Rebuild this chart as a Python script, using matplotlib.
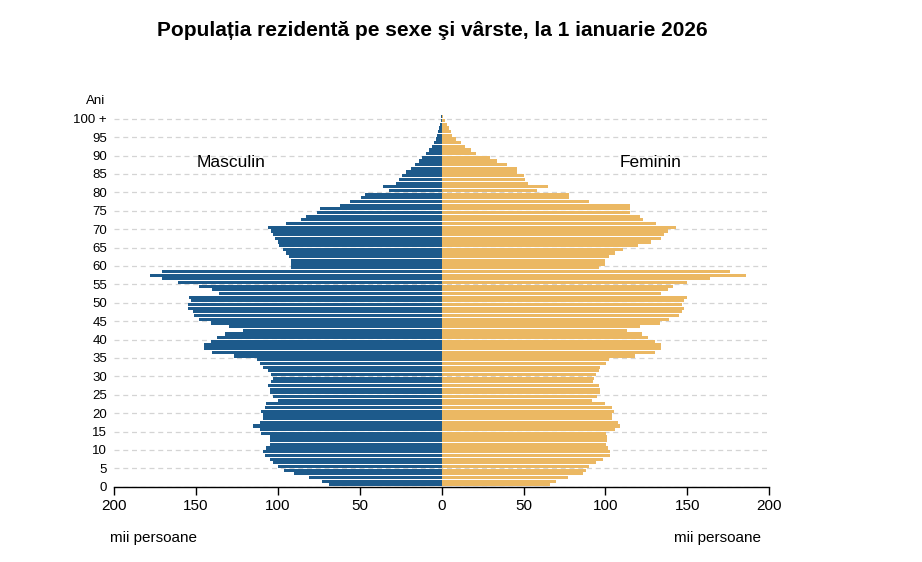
import matplotlib

matplotlib.use("Agg")
import matplotlib.pyplot as plt
import numpy as np

plt.rcParams["font.family"] = ["Liberation Sans", "DejaVu Sans"]

AGES = list(range(0, 101))

# mii persoane (0 ... 100+)
MASCULIN = [
    69, 73, 81, 90, 96, 100, 103, 105, 108, 109,
    107, 105, 105, 105, 110, 111, 115, 111, 109, 109,
    110, 108, 107, 100, 103, 105, 105, 106, 104, 103,
    104, 106, 109, 111, 113, 127, 140, 145, 145, 141,
    137, 132, 121, 130, 141, 148, 151, 152, 155, 155,
    153, 154, 136, 140, 148, 161, 171, 178, 171, 92,
    92, 92, 93, 95, 97, 99, 100, 102, 103, 104,
    106, 95, 86, 83, 76, 74, 62, 56, 49, 47,
    32, 36, 28, 26, 24, 22, 19, 16, 14, 12,
    9.5, 7.5, 6, 4.5, 3.5, 2.6, 2, 1.4, 1.0, 0.6,
    0.5,
]
FEMININ = [
    66, 70, 77, 86, 88, 90, 94.5, 98.6, 103, 102.6,
    101.6, 100.6, 101, 101, 100.6, 105.7, 108.7, 107.7, 104, 104,
    105, 103.7, 100, 92, 95, 96.5, 96.5, 96, 92.5, 93,
    94.5, 96, 96.5, 100.6, 102, 118, 130, 134, 134, 130,
    126, 122, 113, 121, 133, 139, 145, 147, 148, 147,
    148, 150, 134, 138, 141, 150, 164, 186, 176, 96,
    100, 100, 102, 106, 111, 120, 128, 134, 136, 138,
    143, 131, 123, 121, 115, 115, 115, 90, 78, 78,
    58, 65, 53, 51, 50, 46, 46, 40, 33.5, 29.5,
    21, 18, 14, 12, 8.5, 6.5, 5.7, 4.5, 3, 2,
    1,
]

X_TICKS = [-200, -150, -100, -50, 0, 50, 100, 150, 200]
Y_TICKS = list(range(0, 101, 5))
Y_LABELS = [str(v) for v in Y_TICKS[:-1]] + ["100 +"]

COL_M = "#1d5a8b"
COL_F = "#ebb863"

W, H = 922, 562
fig = plt.figure(figsize=(W / 100, H / 100), dpi=100)
ax = fig.add_axes([114 / W, (H - 486.7) / H, 655.3 / W, 373.5 / H])

ages = np.array(AGES) + 0.5
ax.barh(ages, -np.array(MASCULIN), height=0.86, color=COL_M, zorder=2)
ax.barh(ages, np.array(FEMININ), height=0.86, color=COL_F, zorder=2)

ax.set_xlim(-200, 200)
ax.set_ylim(0, 101.5)
ax.set_xticks(X_TICKS)
ax.set_xticklabels([str(abs(v)) for v in X_TICKS], fontsize=11)
ax.set_yticks(Y_TICKS)
ax.set_yticklabels(Y_LABELS, fontsize=9.5)
ax.tick_params(axis="x", direction="out", length=6, width=1, pad=3)
ax.tick_params(axis="y", length=0, pad=5)

ax.yaxis.grid(True, color="#d4d4d4", linestyle=(0, (4, 3)), linewidth=0.9, zorder=0)
ax.set_axisbelow(True)
for side in ["left", "right", "top"]:
    ax.spines[side].set_visible(False)
ax.spines["bottom"].set_linewidth(1.0)

ax.text(-128.6, 88, "Masculin", fontsize=12.5, ha="center", va="center")
ax.text(127.8, 88, "Feminin", fontsize=12.5, ha="center", va="center")

fig.text(96 / W, 1 - 101 / H, "Ani", fontsize=9.5, ha="center", va="center")
fig.text(153 / W, 1 - 538 / H, "mii persoane", fontsize=11, ha="center", va="center")
fig.text(717 / W, 1 - 538 / H, "mii persoane", fontsize=11, ha="center", va="center")
fig.text(432 / W, 1 - 31 / H, "Populația rezidentă pe sexe şi vârste, la 1 ianuarie 2026",
         fontsize=15, fontweight="bold", ha="center", va="center")

fig.savefig("out.png", dpi=100)
